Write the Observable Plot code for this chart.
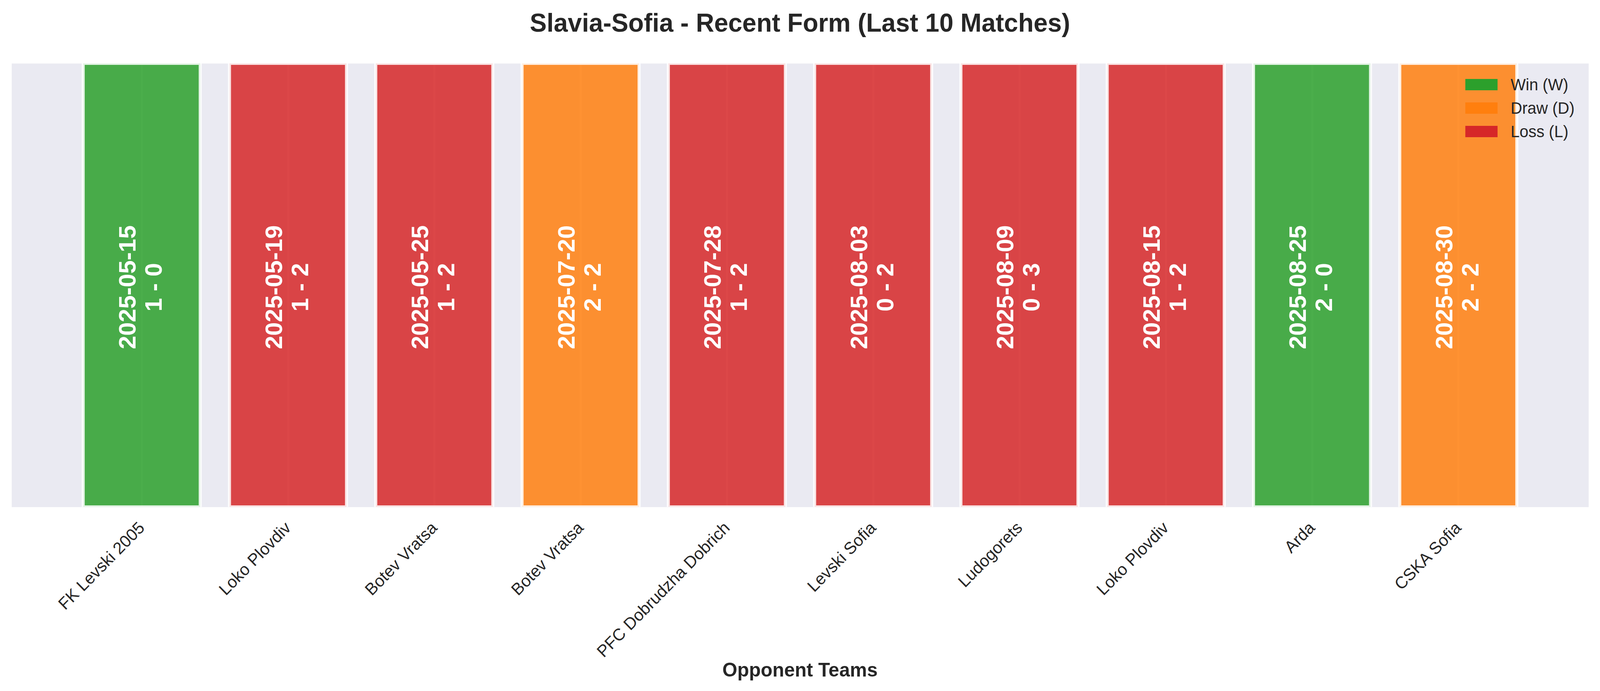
<!DOCTYPE html>
<html>
<head>
<meta charset="utf-8">
<script src="https://cdn.jsdelivr.net/npm/d3@7"></script>
<script src="https://cdn.jsdelivr.net/npm/@observablehq/plot@0.6"></script>
<style>
  html, body { margin: 0; padding: 0; background: #ffffff; overflow: hidden; }
  #page { width: 4170px; height: 1768px; position: relative;
          transform-origin: 0 0;
          font-family: "Liberation Sans", Arial, Helvetica, sans-serif; color: #262626; }
  #title { height: 116px; line-height: 116px; font-size: 66px; font-weight: bold;
           text-align: center; white-space: nowrap; }
  #xlabel { position: absolute; left: 0; top: 1660px; height: 108px; line-height: 108px;
            font-size: 50px; font-weight: bold; text-align: center; width: 4170px; }
  #chart svg { display: block; overflow: visible; }
  .legend-row { position: absolute; left: 3819px; height: 42px; }
  .legend-box { position: absolute; left: 0; width: 84px; height: 29px; }
  .legend-text { position: absolute; left: 118px; font-size: 41.7px; line-height: 41.7px;
                 white-space: nowrap; color: #262626; }
</style>
</head>
<body>
<div id="page">
  <div id="title">Slavia-Sofia - Recent Form (Last 10 Matches)</div>
  <div id="chart"></div>
  <div id="xlabel">Opponent Teams</div>
  <div id="legend"></div>
</div>
<script>
// ---- data ----
const opponents = ["FK Levski 2005", "Loko Plovdiv", "Botev Vratsa", "Botev Vratsa",
  "PFC Dobrudzha Dobrich", "Levski Sofia", "Ludogorets", "Loko Plovdiv", "Arda", "CSKA Sofia"];
const dates = ["2025-05-15", "2025-05-19", "2025-05-25", "2025-07-20", "2025-07-28",
  "2025-08-03", "2025-08-09", "2025-08-15", "2025-08-25", "2025-08-30"];
const goalsFor = [1, 1, 1, 2, 1, 0, 0, 1, 2, 2];
const goalsAgainst = [0, 2, 2, 2, 2, 2, 3, 2, 0, 2];
const results = ["W", "L", "L", "D", "L", "L", "L", "L", "W", "D"];

const resultKeys = ["W", "D", "L"];
const resultNames = ["Win (W)", "Draw (D)", "Loss (L)"];
const resultColors = ["#2ca02c", "#ff7f0e", "#d62728"];

const matches = opponents.map((team, i) => ({
  i, team, date: dates[i], gf: goalsFor[i], ga: goalsAgainst[i], result: results[i]
}));
const barHalf = 0.4;

// fit the 4170px-wide design into the actual viewport width
const page = document.getElementById("page");
const sx = Math.min(1, window.innerWidth / 4170);
const sy = Math.min(1, window.innerHeight / 1768);
page.style.transform = `scale(${sx}, ${sy})`;

const plot = Plot.plot({
  width: 4170,
  height: 1544,
  marginTop: 46,
  marginBottom: 363,
  marginLeft: 30,
  marginRight: 30,
  style: { fontFamily: '"Liberation Sans", Arial, Helvetica, sans-serif', background: "white", color: "#262626", overflow: "visible" },
  x: { type: "linear", domain: [-0.4 - 0.49, 9.4 + 0.49], axis: null },
  y: { domain: [0, 1], axis: null },
  color: { domain: resultKeys, range: resultColors },
  marks: [
    Plot.frame({ fill: "#EAEAF2", stroke: "none" }),
    Plot.ruleX(matches, { x: "i", stroke: "white", strokeWidth: 5 }),
    Plot.rect(matches, {
      x1: d => d.i - barHalf, x2: d => d.i + barHalf, y1: 0, y2: 1,
      fill: "result", fillOpacity: 0.85,
      stroke: "white", strokeOpacity: 0.85, strokeWidth: 8, clip: true
    }),
    Plot.text(matches, {
      x: "i", y: 0.5,
      text: d => `${d.date}\n${d.gf} - ${d.ga}`,
      rotate: -90, fill: "white", fontWeight: "bold", fontSize: 62,
      lineHeight: 1.1, dx: -4, dy: 5
    }),
    Plot.text(matches, {
      x: "i", frameAnchor: "bottom", text: "team",
      rotate: -45, textAnchor: "end", lineAnchor: "top",
      fontSize: 43, fill: "#262626", dx: -12, dy: 34
    })
  ]
});
document.getElementById("chart").appendChild(plot);

// ---- legend (upper right, inside axes) ----
const legend = document.getElementById("legend");
const rowCenters = [216, 276, 336];
resultKeys.forEach((k, j) => {
  const row = document.createElement("div");
  row.className = "legend-row";
  row.style.top = (rowCenters[j] - 14.5) + "px";
  const box = document.createElement("div");
  box.className = "legend-box";
  box.style.background = resultColors[j];
  const txt = document.createElement("div");
  txt.className = "legend-text";
  txt.style.top = (29 + 1 - 35.3) + "px";
  txt.textContent = resultNames[j];
  row.appendChild(box);
  row.appendChild(txt);
  legend.appendChild(row);
});
</script>
</body>
</html>
